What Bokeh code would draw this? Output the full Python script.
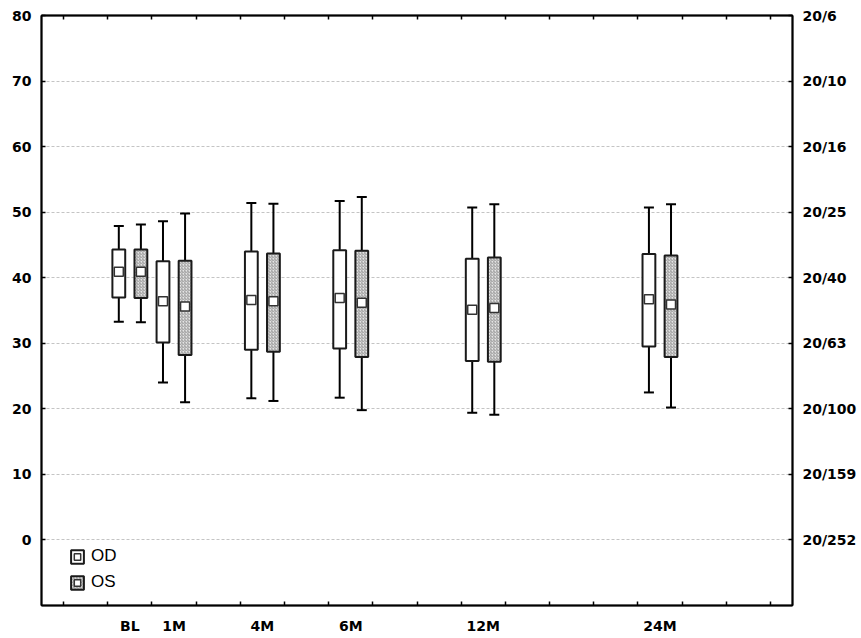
from bokeh.plotting import figure
from bokeh.models import FixedTicker, LinearAxis, Range1d, Legend, LegendItem, ColumnDataSource
from bokeh.embed import file_html
from bokeh.resources import INLINE

# ---- data ----
visits = ["BL", "1M", "4M", "6M", "12M", "24M"]

od_whisk_lo = [33.3, 24.0, 21.6, 21.7, 19.4, 22.5]
od_q_lo     = [37.0, 30.1, 29.0, 29.2, 27.3, 29.5]
od_mean     = [40.9, 36.4, 36.6, 36.9, 35.1, 36.7]
od_q_hi     = [44.3, 42.5, 44.0, 44.2, 42.9, 43.6]
od_whisk_hi = [47.9, 48.6, 51.4, 51.7, 50.7, 50.7]

os_whisk_lo = [33.2, 21.0, 21.2, 19.8, 19.1, 20.2]
os_q_lo     = [36.9, 28.2, 28.7, 27.9, 27.2, 27.9]
os_mean     = [40.9, 35.6, 36.4, 36.2, 35.4, 35.9]
os_q_hi     = [44.3, 42.6, 43.7, 44.1, 43.1, 43.4]
os_whisk_hi = [48.1, 49.8, 51.3, 52.3, 51.2, 51.2]

left_ticks = [0, 10, 20, 30, 40, 50, 60, 70, 80]
snellen_labels = ["20/252", "20/159", "20/100", "20/63", "20/40", "20/25", "20/16", "20/10", "20/6"]

# ---- layout constants ----
slots = [2, 3, 5, 7, 10, 14]
half_ticks = [k + 0.5 for k in range(17)]
offset = 0.25
box_w = 0.29

LABEL_FONT = "DejaVu Sans"

p = figure(width=861, height=638, x_range=Range1d(0, 17), y_range=Range1d(-10, 80),
           output_backend="svg", toolbar_location=None,
           min_border_left=41, min_border_right=69, min_border_top=15, min_border_bottom=33)
p.background_fill_color = "white"
p.border_fill_color = "white"
p.outline_line_color = "black"
p.outline_line_width = 1.5

# grid
ytick = FixedTicker(ticks=left_ticks)
p.xgrid.visible = False
p.ygrid.ticker = ytick
p.ygrid.grid_line_color = "#c4c4c4"
p.ygrid.grid_line_dash = "3 2"
p.ygrid.grid_line_width = 1

def style_axis(ax):
    ax.axis_line_color = "black"
    ax.axis_line_width = 2
    ax.major_tick_line_color = "black"
    ax.major_tick_line_width = 1.5
    ax.minor_tick_line_color = "black"
    ax.minor_tick_line_width = 1.5
    ax.major_label_text_font = LABEL_FONT
    ax.major_label_text_font_style = "bold"
    ax.major_label_text_font_size = "14px"
    ax.major_label_text_color = "black"

# left axis
yax = p.yaxis[0]
yax.ticker = ytick
style_axis(yax)
yax.major_tick_in = 4
yax.major_tick_out = 0
yax.major_label_standoff = 10

# bottom axis
xax = p.xaxis[0]
xax.ticker = FixedTicker(ticks=slots, minor_ticks=half_ticks)
xax.major_label_overrides = {s: lab for s, lab in zip(slots, visits)}
style_axis(xax)
xax.major_tick_in = 0
xax.major_tick_out = 0
xax.minor_tick_in = 4
xax.minor_tick_out = 0
xax.major_label_standoff = 12

# top axis
tax = LinearAxis(ticker=FixedTicker(ticks=[], minor_ticks=half_ticks))
style_axis(tax)
tax.major_tick_in = 0
tax.major_tick_out = 0
tax.minor_tick_in = 4
tax.minor_tick_out = 0
p.add_layout(tax, "above")

# right axis
rax = LinearAxis(ticker=FixedTicker(ticks=left_ticks))
rax.major_label_overrides = {v: lab for v, lab in zip(left_ticks, snellen_labels)}
style_axis(rax)
rax.major_tick_in = 4
rax.major_tick_out = 0
rax.major_label_standoff = 10
p.add_layout(rax, "right")

def draw_series(dx, wlo, qlo, mean, qhi, whi, hatched):
    xs = [s + dx for s in slots]
    src = ColumnDataSource(dict(x=xs, wlo=wlo, qlo=qlo, mean=mean, qhi=qhi, whi=whi))
    p.segment(x0="x", y0="wlo", x1="x", y1="whi", source=src, line_color="black", line_width=2)
    p.scatter(x="x", y="wlo", source=src, marker="dash", size=10, line_color="black", line_width=2)
    p.scatter(x="x", y="whi", source=src, marker="dash", size=10, line_color="black", line_width=2)
    if hatched:
        box = p.vbar(x="x", bottom="qlo", top="qhi", width=box_w, source=src,
                     fill_color="#e4e4e4", line_color="#1a1a1a", line_width=2,
                     hatch_pattern="right_diagonal_line", hatch_color="#9a9a9a",
                     hatch_scale=3, hatch_weight=1)
    else:
        box = p.vbar(x="x", bottom="qlo", top="qhi", width=box_w, source=src,
                     fill_color="white", line_color="#1a1a1a", line_width=2)
    m = p.scatter(x="x", y="mean", source=src, marker="square", size=9,
                  fill_color="white", line_color="#333333", line_width=1.5)
    return box, m

od_box, od_m = draw_series(-offset, od_whisk_lo, od_q_lo, od_mean, od_q_hi, od_whisk_hi, False)
os_box, os_m = draw_series(offset, os_whisk_lo, os_q_lo, os_mean, os_q_hi, os_whisk_hi, True)

legend = Legend(items=[LegendItem(label="OD", renderers=[od_box, od_m]),
                       LegendItem(label="OS", renderers=[os_box, os_m])],
                location=(28, 13), margin=0, padding=0, spacing=6,
                glyph_width=16, glyph_height=17, label_height=17, label_standoff=6,
                label_text_font="Liberation Sans", label_text_font_size="17px",
                label_text_color="black",
                background_fill_alpha=0, border_line_color=None)
p.add_layout(legend, "center")

open("out.html", "w").write(file_html(p, INLINE))
